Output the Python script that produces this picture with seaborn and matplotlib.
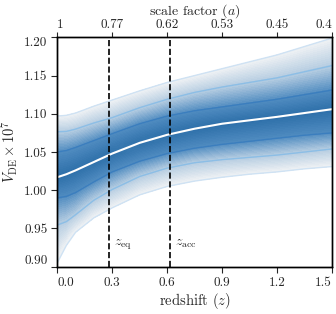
import numpy as np
import matplotlib
matplotlib.use("Agg")
import matplotlib.pyplot as plt
import seaborn as sns
from matplotlib.colors import LinearSegmentedColormap

# redshift grid and percentile curves of V_DE x 1e7
z = [0.0, 0.05, 0.1, 0.2, 0.3, 0.45, 0.6, 0.75, 0.9, 1.05, 1.2, 1.35, 1.5]
median = [1.017, 1.021, 1.026, 1.037, 1.048, 1.062, 1.0725, 1.0805, 1.087, 1.0915, 1.096, 1.101, 1.106]
up1 = [1.050, 1.052, 1.056, 1.065, 1.074, 1.087, 1.097, 1.104, 1.109, 1.114, 1.119, 1.125, 1.131]
lo1 = [0.990, 0.992, 0.997, 1.011, 1.024, 1.038, 1.048, 1.055, 1.060, 1.064, 1.068, 1.072, 1.075]
up2 = [1.0765, 1.077, 1.080, 1.088, 1.095, 1.108, 1.119, 1.128, 1.135, 1.141, 1.147, 1.155, 1.163]
lo2 = [0.9545, 0.959, 0.968, 0.987, 1.001, 1.018, 1.029, 1.036, 1.040, 1.043, 1.046, 1.050, 1.054]
up3 = [1.097, 1.098, 1.101, 1.110, 1.118, 1.130, 1.141, 1.150, 1.159, 1.168, 1.177, 1.188, 1.199]
lo3 = [0.905, 0.928, 0.945, 0.964, 0.977, 0.994, 1.005, 1.012, 1.017, 1.021, 1.024, 1.028, 1.031]

z_eq = 0.284
z_acc = 0.617

bottom_ticks = [0.0, 0.3, 0.6, 0.9, 1.2, 1.5]
bottom_labels = ["0.0", "0.3", "0.6", "0.9", "1.2", "1.5"]
top_labels = ["1", "0.77", "0.62", "0.53", "0.45", "0.4"]
y_ticks = [0.90, 0.95, 1.00, 1.05, 1.10, 1.15, 1.20]
y_labels = ["0.90", "0.95", "1.00", "1.05", "1.10", "1.15", "1.20"]

sns.set_style("ticks")
plt.rcParams["font.family"] = "serif"
plt.rcParams["font.serif"] = ["cmr10"]
plt.rcParams["mathtext.fontset"] = "cm"
plt.rcParams["axes.formatter.use_mathtext"] = True
plt.rcParams["font.size"] = 9.5

fig = plt.figure(figsize=(3.36, 3.14), dpi=100)
ax = fig.add_axes([0.1705, 0.1506, 0.8175, 0.7305])

# sigma map for the shaded density
sig_levels = [-3, -2, -1, 0, 1, 2, 3]
yy = np.linspace(0.88, 1.22, 500)
curves = np.array([lo3, lo2, lo1, median, up1, up2, up3])
S = np.zeros((len(yy), len(z)))
for j in range(len(z)):
    col = curves[:, j]
    s = np.interp(yy, col, sig_levels)
    hi = yy > col[-1]
    s[hi] = 3 + (yy[hi] - col[-1]) / (col[-1] - col[-2])
    lo = yy < col[0]
    s[lo] = -3 - (col[0] - yy[lo]) / (col[1] - col[0])
    S[:, j] = np.abs(s)
ZZ, YY = np.meshgrid(z, yy)

cmap = LinearSegmentedColormap.from_list(
    "dens", [(0.0, "#2c6ea8"), (0.33, "#4f8bc0"), (0.66, "#b3cbe0"), (1.0, "#eef1f4")])
ax.contourf(ZZ, YY, S, levels=np.linspace(0, 3, 40), cmap=cmap)

for c, colr in [(up3, "#cfe2f3"), (lo3, "#cfe2f3"), (up2, "#8cbee6"), (lo2, "#8cbee6"),
                (up1, "#3b7ebe"), (lo1, "#3b7ebe")]:
    sns.lineplot(x=z, y=c, color=colr, lw=1.0, ax=ax)
sns.lineplot(x=z, y=median, color="white", lw=1.5, ax=ax)

ax.axvline(z_eq, color="black", ls="--", lw=1.2)
ax.axvline(z_acc, color="black", ls="--", lw=1.2)
ax.text(z_eq + 0.025, 0.928, r"$z_{\rm eq}$", fontsize=10)
ax.text(z_acc + 0.025, 0.928, r"$z_{\rm acc}$", fontsize=10)

ax.set_xlim(0, 1.5)
ax.set_ylim(0.9, 1.2)
ax.set_xticks(bottom_ticks)
ax.set_xticklabels(bottom_labels)
ax.set_yticks(y_ticks)
ax.set_yticklabels(y_labels)
ax.set_xlabel(r"redshift $(z)$", fontsize=10.5, labelpad=2)
ax.set_ylabel(r"$V_{\rm DE}\times 10^7$", fontsize=10.5, labelpad=3)
ax.tick_params(direction="out", length=4, width=0.8, pad=3)

top = ax.twiny()
top.set_xlim(ax.get_xlim())
top.set_xticks(bottom_ticks)
top.set_xticklabels(top_labels)
top.set_xlabel(r"scale factor $(a)$", fontsize=10, labelpad=3.5)
top.tick_params(direction="out", length=3.5, width=0.8, pad=1)

# end labels sit inside the axis span
for a in (ax, top):
    labs = a.get_xticklabels()
    labs[0].set_ha("left")
    labs[-1].set_ha("right")
ylabs = ax.get_yticklabels()
ylabs[0].set_va("bottom")
ylabs[-1].set_va("top")

for a in (ax, top):
    for sp in a.spines.values():
        sp.set_visible(True)
        sp.set_color("black")
        sp.set_linewidth(1.0)

fig.savefig("out.png", dpi=100)
